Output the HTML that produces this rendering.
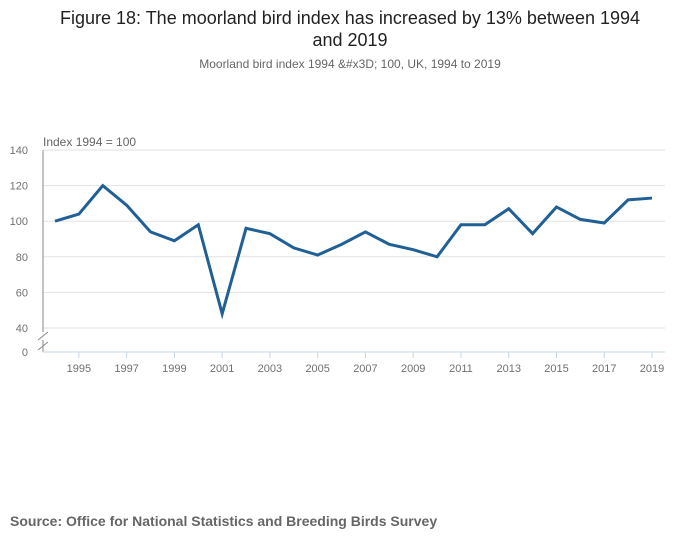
<!DOCTYPE html>
<html><head><meta charset="utf-8"><style>
body{margin:0;background:#fff;font-family:"Liberation Sans",sans-serif;}
#wrap{position:relative;width:700px;height:549px;overflow:hidden}
</style></head><body>
<div id="wrap">
<div style="position:absolute;left:0;width:700px;top:7px;text-align:center;font-size:18px;line-height:22px;color:#222">Figure 18: The moorland bird index has increased by 13% between 1994<br>and 2019</div>
<div style="position:absolute;left:0;width:700px;top:57px;text-align:center;font-size:12px;color:#666">Moorland bird index 1994 &amp;#x3D; 100, UK, 1994 to 2019</div>
<div style="position:absolute;left:10px;top:513px;font-size:14px;font-weight:bold;color:#666">Source: Office for National Statistics and Breeding Birds Survey</div>
<svg id="chart" width="700" height="549" style="position:absolute;left:0;top:0"></svg>
</div>
<script>
const years=[1994,1995,1996,1997,1998,1999,2000,2001,2002,2003,2004,2005,2006,2007,2008,2009,2010,2011,2012,2013,2014,2015,2016,2017,2018,2019];
const values=[100,104,120,109,94,89,98,48,96,93,85,81,87,94,87,84,80,98,98,107,93,108,101,99,112,113];
const yTicks=[40,60,80,100,120,140];
const xTicks=[1995,1997,1999,2001,2003,2005,2007,2009,2011,2013,2015,2017,2019];
const ns="http://www.w3.org/2000/svg";
const svg=document.getElementById('chart');
function x(yr){return 55+(yr-1994)*(652-55)/25;}
function y(v){return 328-(v-40)*(328-150)/100;}
function mk(t,a){const e=document.createElementNS(ns,t);for(const k in a)e.setAttribute(k,a[k]);svg.appendChild(e);return e;}
yTicks.forEach(v=>{
 const g=mk('line',{x1:43,x2:665,y1:y(v),y2:y(v),stroke:'#e2e2e2','stroke-width':1});
 
 
 const t=mk('text',{x:28,y:y(v)+4,'text-anchor':'end','font-size':11,fill:'#707070'});
 t.textContent=v;
 
 
});
const z=mk('text',{x:28,y:356,'text-anchor':'end','font-size':11,fill:'#707070'});z.textContent='0';


const ya=mk('line',{x1:43,x2:43,y1:150,y2:332,stroke:'#888','stroke-width':1});


const ya2=mk('line',{x1:43,x2:43,y1:340,y2:352,stroke:'#888','stroke-width':1});


const br=mk('path',{d:'M38,340 L48,332 M38,350 L48,342',stroke:'#888','stroke-width':1,fill:'none'});


const xa=mk('line',{x1:43,x2:665,y1:352,y2:352,stroke:'#c6d4e8','stroke-width':1});


xTicks.forEach(yr=>{
 const l=mk('line',{x1:x(yr),x2:x(yr),y1:352,y2:358,stroke:'#c6d4e8'});
 
 
 const t=mk('text',{x:x(yr),y:372,'text-anchor':'middle','font-size':11,fill:'#707070'});
 t.textContent=yr;
 
 
});
const yt=mk('text',{x:43,y:146,'font-size':12,fill:'#666'});yt.textContent='Index 1994 = 100';


const p=mk('polyline',{points:years.map((yr,i)=>x(yr)+','+y(values[i])).join(' '),fill:'none',stroke:'#206095','stroke-width':3,'stroke-linejoin':'miter'});


</script>
</body></html>
